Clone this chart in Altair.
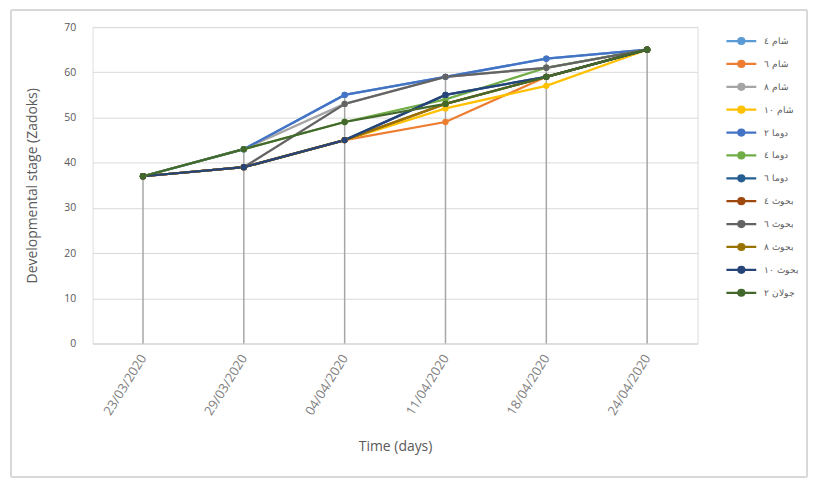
import altair as alt
import pandas as pd

dates = ["23/03/2020", "29/03/2020", "04/04/2020", "11/04/2020", "18/04/2020", "24/04/2020"]

series_names = ["شام ٤", "شام ٦", "شام ٨", "شام ١٠", "دوما ٢", "دوما ٤",
                "دوما ٦", "بحوث ٤", "بحوث ٦", "بحوث ٨", "بحوث ١٠", "جولان ٢"]

sham4 = [37, 43, 55, 59, 63, 65]
sham6 = [37, 39, 45, 49, 59, 65]
sham8 = [37, 43, 53, 59, 61, 65]
sham10 = [37, 39, 45, 52, 57, 65]
douma2 = [37, 43, 55, 59, 63, 65]
douma4 = [37, 43, 49, 54, 61, 65]
douma6 = [37, 39, 45, 55, 59, 65]
bohouth4 = [37, 39, 45, 53, 59, 65]
bohouth6 = [37, 39, 53, 59, 61, 65]
bohouth8 = [37, 39, 45, 53, 59, 65]
bohouth10 = [37, 39, 45, 55, 59, 65]
jolan2 = [37, 43, 49, 53, 59, 65]

colors = ["#5B9BD5", "#ED7D31", "#A5A5A5", "#FFC000", "#4472C4", "#70AD47",
          "#255E91", "#9E480E", "#636363", "#997300", "#264478", "#43682B"]

all_values = [sham4, sham6, sham8, sham10, douma2, douma4,
              douma6, bohouth4, bohouth6, bohouth8, bohouth10, jolan2]

rows = []
for i, (name, vals) in enumerate(zip(series_names, all_values)):
    for j, (d, v) in enumerate(zip(dates, vals)):
        rows.append({"series": name, "date": d, "value": v, "s_order": i, "d_order": j})
df = pd.DataFrame(rows)

FONT = "Open Sans"
GREY_TXT = "#595959"

x_enc = alt.X("date:N", sort=dates, scale=alt.Scale(type="point", padding=0.5),
              axis=alt.Axis(title="Time (days)", labelAngle=-58, labelFontSize=13,
                            labelColor="#7F7F7F", titleFontSize=14, titleColor=GREY_TXT,
                            titleFontWeight="normal", titlePadding=22, ticks=False,
                            grid=False, domainColor="#D9D9D9", labelPadding=12,
                            labelFont=FONT, titleFont=FONT))
y_enc = alt.Y("value:Q", scale=alt.Scale(domain=[0, 70], nice=False),
              axis=alt.Axis(title="Developmental stage (Zadoks)", values=list(range(0, 71, 10)),
                            labelFontSize=10.5, labelColor=GREY_TXT, titleFontSize=14,
                            titleColor=GREY_TXT, titleFontWeight="normal", ticks=False,
                            gridColor="#D9D9D9", domain=False, labelPadding=17,
                            titlePadding=24, labelFont=FONT, titleFont=FONT))

color_enc = alt.Color("series:N", sort=series_names,
                      scale=alt.Scale(domain=series_names, range=colors),
                      legend=alt.Legend(title=None, orient="none", legendX=643, legendY=5,
                                        symbolType="M-2,0H2M-0.4,0A0.4,0.4 0 1 1 0.4,0A0.4,0.4 0 1 1 -0.4,0Z",
                                        symbolSize=225, symbolStrokeWidth=2.25,
                                        labelFontSize=9, labelColor=GREY_TXT, labelFont=FONT,
                                        labelOffset=14, rowPadding=6.0, labelLimit=80))

drop = alt.Chart(df).mark_rule(color="#A6A6A6", strokeWidth=1.5).encode(
    x=alt.X("date:N", sort=dates, scale=alt.Scale(type="point", padding=0.5)),
    y=alt.Y("max(value):Q"),
    y2=alt.datum(0),
)

lines = alt.Chart(df).mark_line(strokeWidth=2.25).encode(
    x=x_enc, y=y_enc, color=color_enc, order="d_order:Q",
    detail="series:N",
)

points = alt.Chart(df).mark_circle(size=40, opacity=1).encode(
    x=alt.X("date:N", sort=dates), y="value:Q", color=color_enc,
    order="s_order:Q",
)

border = alt.Chart(df).mark_rect(fill=None, stroke="#D9D9D9", strokeWidth=1).encode(
    x=alt.value(-82), x2=alt.value(718), y=alt.value(-17), y2=alt.value(452),
)

chart = alt.layer(border, drop, lines, points).properties(
    width=608, height=318, padding={"left": 2, "top": 0, "right": 2, "bottom": 2}
).configure_view(stroke=None).configure(font=FONT, background="white")

chart.save("out.html", embed_options={"renderer": "svg", "actions": False})
